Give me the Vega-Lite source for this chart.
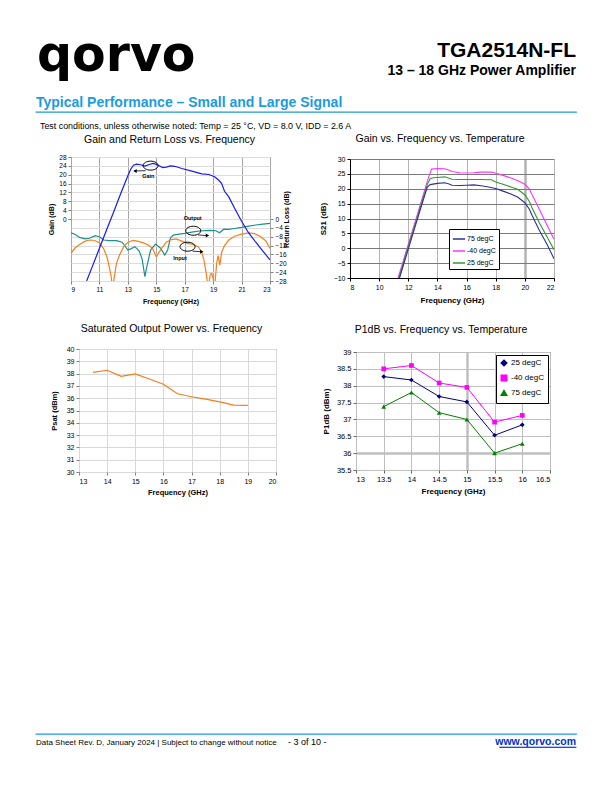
{
"$schema": "https://vega.github.io/schema/vega-lite/v6.json",
"padding": 0,
"background": "white",
"bounds": "flush",
"spacing": 0,
"resolve": {"scale": {"color": "independent", "shape": "independent"}, "legend": {"color": "independent", "shape": "independent"}},
"config": {
  "view": {"stroke": null},
  "font": "Liberation Sans",
  "concat": {"spacing": 0},
  "axis": {"labelFont": "Liberation Sans", "titleFont": "Liberation Sans", "labelColor": "#000", "titleColor": "#000", "domainColor": "#000", "tickColor": "#000", "labelFontSize": 7, "titleFontSize": 7.5, "titleFontWeight": "bold", "tickSize": 3, "labelPadding": 2, "labelOverlap": false},
  "title": {"font": "Liberation Sans", "fontWeight": "normal", "color": "#000", "subtitleFont": "Liberation Sans", "subtitleColor": "#000"},
  "legend": {"labelFont": "Liberation Sans", "labelColor": "#000"}
},
"datasets": {
  "c1gain": [
    {"f":10.1,"v":-28},{"f":10.5,"v":-21.5},{"f":11,"v":-13.2},{"f":11.5,"v":-5},{"f":12,"v":3.2},{"f":12.5,"v":11.5},{"f":13,"v":19.5},{"f":13.2,"v":22.5},{"f":13.4,"v":24.3},{"f":13.6,"v":24.8},{"f":13.9,"v":24.5},{"f":14.2,"v":23.9},{"f":14.5,"v":24.6},{"f":14.8,"v":25.1},{"f":15.1,"v":24.4},{"f":15.45,"v":23.2},{"f":15.7,"v":23.4},{"f":16,"v":24},{"f":16.3,"v":23.8},{"f":16.8,"v":22.8},{"f":17.5,"v":21.6},{"f":18.2,"v":20.4},{"f":18.7,"v":20.1},{"f":19.1,"v":19.1},{"f":19.4,"v":17.5},{"f":19.6,"v":16},{"f":19.8,"v":12.5},{"f":20.1,"v":10},{"f":20.5,"v":5},{"f":21,"v":-1},{"f":21.5,"v":-6.3},{"f":22,"v":-10.5},{"f":22.5,"v":-14.5},{"f":23,"v":-18.5}
  ],
  "c1rl": [
    {"s":"Output","f":9,"v":-6.2},{"s":"Output","f":9.3,"v":-7},{"s":"Output","f":9.6,"v":-8.3},{"s":"Output","f":10,"v":-9},{"s":"Output","f":10.3,"v":-8.7},{"s":"Output","f":10.7,"v":-7.5},{"s":"Output","f":11,"v":-8},{"s":"Output","f":11.3,"v":-9.5},{"s":"Output","f":11.7,"v":-9.8},{"s":"Output","f":12.2,"v":-9.8},{"s":"Output","f":12.6,"v":-10.5},{"s":"Output","f":13,"v":-14},{"s":"Output","f":13.2,"v":-13.5},{"s":"Output","f":13.5,"v":-12.5},{"s":"Output","f":13.8,"v":-14.5},{"s":"Output","f":14,"v":-18},{"s":"Output","f":14.2,"v":-26},{"s":"Output","f":14.35,"v":-21},{"s":"Output","f":14.6,"v":-14},{"s":"Output","f":14.95,"v":-11.3},{"s":"Output","f":15.3,"v":-13.2},{"s":"Output","f":15.6,"v":-16.3},{"s":"Output","f":15.8,"v":-14},{"s":"Output","f":16,"v":-8.5},{"s":"Output","f":16.2,"v":-7.3},{"s":"Output","f":16.6,"v":-6.8},{"s":"Output","f":17,"v":-6.5},{"s":"Output","f":17.6,"v":-5.8},{"s":"Output","f":18.2,"v":-5.3},{"s":"Output","f":18.8,"v":-5.1},{"s":"Output","f":19.2,"v":-5.3},{"s":"Output","f":19.45,"v":-6.2},{"s":"Output","f":19.75,"v":-4.6},{"s":"Output","f":20.1,"v":-4.7},{"s":"Output","f":20.5,"v":-4.3},{"s":"Output","f":21,"v":-3.8},{"s":"Output","f":21.5,"v":-3.2},{"s":"Output","f":22,"v":-2.7},{"s":"Output","f":22.5,"v":-2.3},{"s":"Output","f":23,"v":-2},
    {"s":"Input","f":9,"v":-15.5},{"s":"Input","f":9.3,"v":-13},{"s":"Input","f":9.6,"v":-11.5},{"s":"Input","f":10,"v":-10},{"s":"Input","f":10.3,"v":-9.5},{"s":"Input","f":10.6,"v":-9.6},{"s":"Input","f":11,"v":-10.7},{"s":"Input","f":11.3,"v":-13.5},{"s":"Input","f":11.55,"v":-17.5},{"s":"Input","f":11.8,"v":-25},{"s":"Input","f":11.93,"v":-31},{"s":"Input","f":12.05,"v":-26},{"s":"Input","f":12.2,"v":-20},{"s":"Input","f":12.4,"v":-16.5},{"s":"Input","f":12.7,"v":-12.5},{"s":"Input","f":13,"v":-10.5},{"s":"Input","f":13.4,"v":-9.7},{"s":"Input","f":13.8,"v":-10.2},{"s":"Input","f":14.1,"v":-10.8},{"s":"Input","f":14.5,"v":-12},{"s":"Input","f":14.75,"v":-13.5},{"s":"Input","f":15,"v":-17},{"s":"Input","f":15.15,"v":-15.5},{"s":"Input","f":15.35,"v":-13.5},{"s":"Input","f":15.7,"v":-10.5},{"s":"Input","f":16.05,"v":-9.3},{"s":"Input","f":16.4,"v":-9},{"s":"Input","f":16.8,"v":-10},{"s":"Input","f":17.2,"v":-11},{"s":"Input","f":17.6,"v":-11.5},{"s":"Input","f":17.95,"v":-12.5},{"s":"Input","f":18.2,"v":-15},{"s":"Input","f":18.35,"v":-18.5},{"s":"Input","f":18.5,"v":-24},{"s":"Input","f":18.65,"v":-31},{"s":"Input","f":18.8,"v":-25},{"s":"Input","f":18.9,"v":-24.5},{"s":"Input","f":19,"v":-27},{"s":"Input","f":19.1,"v":-31},{"s":"Input","f":19.25,"v":-20},{"s":"Input","f":19.35,"v":-16.5},{"s":"Input","f":19.47,"v":-20.8},{"s":"Input","f":19.6,"v":-15},{"s":"Input","f":19.8,"v":-12},{"s":"Input","f":20.1,"v":-9.5},{"s":"Input","f":20.5,"v":-7.8},{"s":"Input","f":21,"v":-6.8},{"s":"Input","f":21.5,"v":-6.3},{"s":"Input","f":21.9,"v":-6.6},{"s":"Input","f":22.3,"v":-7.8},{"s":"Input","f":22.7,"v":-9.8},{"s":"Input","f":23,"v":-13.3}
  ],
  "c1ell": [{"f":14.6,"v":24.1},{"f":17.6,"v":-5.3},{"f":17.2,"v":-12.5}],
  "c1arr": [{"f":14.25,"v":21.8,"f2":13.5,"v2":21.7,"dir":"left"},{"f":17.95,"v":-7.2,"f2":18.6,"v2":-7.5,"dir":"right"},{"f":17.55,"v":-14.5,"f2":18.2,"v2":-14.8,"dir":"right"}],
  "c1lab": [{"f":14.44,"v":19.5,"t":"Gain"},{"f":17.56,"v":0.3,"t":"Output"},{"f":16.67,"v":-17.7,"t":"Input"}],
  "c2": [
    {"t":"-40 degC","f":11.3,"v":-10},{"t":"-40 degC","f":12,"v":1.3},{"t":"-40 degC","f":12.5,"v":9.4},{"t":"-40 degC","f":13,"v":17.5},{"t":"-40 degC","f":13.4,"v":24},{"t":"-40 degC","f":13.6,"v":26.6},{"t":"-40 degC","f":14,"v":26.8},{"t":"-40 degC","f":14.5,"v":26.7},{"t":"-40 degC","f":14.8,"v":26.2},{"t":"-40 degC","f":15,"v":25.8},{"t":"-40 degC","f":15.5,"v":25.4},{"t":"-40 degC","f":16,"v":25.3},{"t":"-40 degC","f":16.5,"v":25.4},{"t":"-40 degC","f":17,"v":25.6},{"t":"-40 degC","f":17.7,"v":25.6},{"t":"-40 degC","f":18,"v":25.2},{"t":"-40 degC","f":18.5,"v":24.5},{"t":"-40 degC","f":19,"v":23.7},{"t":"-40 degC","f":19.5,"v":22.8},{"t":"-40 degC","f":20,"v":21.5},{"t":"-40 degC","f":20.3,"v":20},{"t":"-40 degC","f":20.5,"v":18},{"t":"-40 degC","f":21,"v":13},{"t":"-40 degC","f":21.5,"v":8},{"t":"-40 degC","f":22,"v":3},
    {"t":"25 degC","f":11.35,"v":-10},{"t":"25 degC","f":12,"v":0.5},{"t":"25 degC","f":12.5,"v":8.5},{"t":"25 degC","f":13,"v":16.6},{"t":"25 degC","f":13.3,"v":21.4},{"t":"25 degC","f":13.5,"v":23.4},{"t":"25 degC","f":13.7,"v":23.7},{"t":"25 degC","f":14,"v":23.8},{"t":"25 degC","f":14.5,"v":24},{"t":"25 degC","f":14.8,"v":23.5},{"t":"25 degC","f":15,"v":23.2},{"t":"25 degC","f":15.5,"v":23.1},{"t":"25 degC","f":16,"v":23.1},{"t":"25 degC","f":16.5,"v":23.1},{"t":"25 degC","f":17,"v":23.1},{"t":"25 degC","f":17.7,"v":23},{"t":"25 degC","f":18,"v":22.3},{"t":"25 degC","f":18.5,"v":21.5},{"t":"25 degC","f":19,"v":20.7},{"t":"25 degC","f":19.5,"v":19.8},{"t":"25 degC","f":20,"v":18},{"t":"25 degC","f":20.3,"v":15.8},{"t":"25 degC","f":20.5,"v":13.5},{"t":"25 degC","f":21,"v":8.5},{"t":"25 degC","f":21.5,"v":4},{"t":"25 degC","f":22,"v":-0.5},
    {"t":"75 degC","f":11.4,"v":-10},{"t":"75 degC","f":12,"v":-0.3},{"t":"75 degC","f":12.5,"v":7.8},{"t":"75 degC","f":13,"v":15.8},{"t":"75 degC","f":13.3,"v":20.5},{"t":"75 degC","f":13.5,"v":21.4},{"t":"75 degC","f":14,"v":21.8},{"t":"75 degC","f":14.5,"v":22},{"t":"75 degC","f":14.8,"v":21.6},{"t":"75 degC","f":15,"v":21.2},{"t":"75 degC","f":15.5,"v":21.1},{"t":"75 degC","f":16,"v":21.2},{"t":"75 degC","f":16.5,"v":21.3},{"t":"75 degC","f":17,"v":21},{"t":"75 degC","f":17.5,"v":20.6},{"t":"75 degC","f":18,"v":20.1},{"t":"75 degC","f":18.5,"v":19.2},{"t":"75 degC","f":19,"v":18.3},{"t":"75 degC","f":19.5,"v":17.2},{"t":"75 degC","f":20,"v":15.3},{"t":"75 degC","f":20.3,"v":13.2},{"t":"75 degC","f":20.5,"v":11},{"t":"75 degC","f":21,"v":6},{"t":"75 degC","f":21.5,"v":1.5},{"t":"75 degC","f":22,"v":-3.5}
  ],
  "c3": [{"f":13.5,"v":38.1},{"f":14,"v":38.27},{"f":14.5,"v":37.78},{"f":15,"v":37.97},{"f":15.5,"v":37.56},{"f":16,"v":37.13},{"f":16.5,"v":36.36},{"f":17,"v":36.12},{"f":17.5,"v":35.92},{"f":18,"v":35.7},{"f":18.5,"v":35.44},{"f":19,"v":35.42}],
  "c4": [
    {"t":"25 degC","f":13.5,"v":38.27},{"t":"25 degC","f":14,"v":38.17},{"t":"25 degC","f":14.5,"v":37.68},{"t":"25 degC","f":15,"v":37.52},{"t":"25 degC","f":15.5,"v":36.53},{"t":"25 degC","f":16,"v":36.84},
    {"t":"-40 degC","f":13.5,"v":38.5},{"t":"-40 degC","f":14,"v":38.6},{"t":"-40 degC","f":14.5,"v":38.08},{"t":"-40 degC","f":15,"v":37.95},{"t":"-40 degC","f":15.5,"v":36.92},{"t":"-40 degC","f":16,"v":37.12},
    {"t":"75 degC","f":13.5,"v":37.38},{"t":"75 degC","f":14,"v":37.8},{"t":"75 degC","f":14.5,"v":37.2},{"t":"75 degC","f":15,"v":37.0},{"t":"75 degC","f":15.5,"v":36.0},{"t":"75 degC","f":16,"v":36.28}
  ]
},
"vconcat": [
  {"width": 612, "height": 78, "data": {"values": []}, "mark": "point"},
  {"hconcat": [
    {"width": 36, "height": 0.01, "data": {"values": []}, "mark": "point"},
    {"width": 540, "height": 0.01, "data": {"values": []}, "mark": "point",
     "title": {"text": "TGA2514N-FL", "subtitle": "13 – 18 GHz Power Amplifier", "anchor": "end", "frame": "group", "offset": 0, "fontSize": 21, "fontWeight": "bold", "subtitleFontSize": 14, "subtitleFontWeight": "bold", "subtitlePadding": 3}}
  ], "spacing": 0, "bounds": "flush"},
  {"hconcat": [
    {"width": 37, "height": 0.01, "data": {"values": []}, "mark": "point"},
    {"width": 300, "height": 0.01, "data": {"values": []}, "mark": "point",
     "title": {"text": "qorvo", "anchor": "start", "frame": "group", "offset": -3, "font": "DejaVu Sans", "fontSize": 49, "fontWeight": "bold"}}
  ], "spacing": 0, "bounds": "flush"},
  {"width": 612, "height": 34, "data": {"values": []}, "mark": "point"},
  {"hconcat": [
    {"width": 36, "height": 0.01, "data": {"values": []}, "mark": "point"},
    {"width": 540, "height": 0.01, "data": {"values": []}, "mark": "point", "view": {"stroke": "#1b9be0", "strokeWidth": 1.3},
     "title": {"text": "Typical Performance – Small and Large Signal", "anchor": "start", "frame": "group", "offset": 2, "fontSize": 14, "fontWeight": "bold", "color": "#1b9be0"}}
  ], "spacing": 0, "bounds": "flush"},
  {"hconcat": [
    {"width": 40, "height": 0.01, "data": {"values": []}, "mark": "point"},
    {"width": 500, "height": 0.01, "data": {"values": []}, "mark": "point",
     "title": {"text": "Test conditions, unless otherwise noted: Temp = 25 °C, VD = 8.0 V, IDD = 2.6 A", "orient": "bottom", "anchor": "start", "frame": "group", "offset": 10, "fontSize": 8.9}}
  ], "spacing": 0, "bounds": "flush"},
  {"width": 612, "height": 45, "data": {"values": []}, "mark": "point"},
  {"hconcat": [
    {"width": 71, "height": 1, "data": {"values": []}, "mark": "point"},
    {"width": 199, "height": 124,
     "view": {"stroke": "#808080", "strokeWidth": 1},
     "title": {"text": "Gain and Return Loss vs. Frequency", "anchor": "middle", "frame": "group", "dx": -1, "offset": 9, "fontSize": 10.5},
     "layer": [
       {"data": {"name": "c1rl"}, "mark": {"type": "line", "strokeWidth": 1.2, "clip": true},
        "encoding": {
          "x": {"field": "f", "type": "quantitative", "title": "Frequency (GHz)", "scale": {"domain": [9, 23], "nice": false},
                "axis": {"values": [9,11,13,15,17,19,21,23], "format": "~g", "tickCount": 30, "labelOverlap": false, "grid": true, "gridColor": "#a6a6a6", "domain": false, "tickColor": "#808080", "labelFontSize": 6.5, "titleFontSize": 7, "titlePadding": 5}},
          "y": {"field": "v", "type": "quantitative", "scale": {"domain": [-28, 28], "nice": false},
                "axis": {"orient": "right", "values": [-28,-24,-20,-16,-12,-8,-4,0], "format": "~g", "tickCount": 30, "labelOverlap": false, "grid": false, "domain": false, "tickColor": "#808080", "labelFontSize": 6.5, "title": "Return Loss (dB)", "titleFontSize": 7, "titleAngle": 270, "titlePadding": 3}},
          "color": {"field": "s", "type": "nominal", "scale": {"domain": ["Input", "Output"], "range": ["#f7801e", "#1f8f8a"]}, "legend": null}
        }},
       {"layer": [
         {"data": {"name": "c1gain"}, "mark": {"type": "line", "color": "#1a1aee", "strokeWidth": 1.2, "clip": true},
          "encoding": {
            "x": {"field": "f", "type": "quantitative", "title": "Frequency (GHz)", "scale": {"domain": [9, 23], "nice": false},
                  "axis": {"values": [9,11,13,15,17,19,21,23], "format": "~g", "tickCount": 30, "labelOverlap": false, "grid": true, "gridColor": "#a6a6a6", "domain": false, "tickColor": "#808080", "labelFontSize": 6.5, "titleFontSize": 7, "titlePadding": 5}},
            "y": {"field": "v", "type": "quantitative", "title": "Gain (dB)", "scale": {"domain": [-28, 28], "nice": false},
                  "axis": {"values": [-28,-24,-20,-16,-12,-8,-4,0,4,8,12,16,20,24,28], "format": "~g", "tickCount": 30, "labelOverlap": false, "labelExpr": "datum.value >= 0 ? datum.label : ''", "tickOpacity": {"condition": {"test": "datum.value < 0", "value": 0}, "value": 1}, "grid": true, "gridColor": "#dcdcdc", "domain": false, "tickColor": "#808080", "labelFontSize": 6.5, "titleFontSize": 7, "titlePadding": 4}}
          }},
         {"data": {"name": "c1ell"}, "mark": {"type": "point", "shape": "M-1,0A1,0.6,0,1,1,1,0A1,0.6,0,1,1,-1,0Z", "size": 225, "color": "black", "filled": false, "strokeWidth": 1, "opacity": 1},
          "encoding": {"x": {"field": "f", "type": "quantitative", "title": "Frequency (GHz)", "axis": {"tickCount": 30, "format": "~g"}}, "y": {"field": "v", "type": "quantitative", "title": "Gain (dB)", "axis": {"tickCount": 30, "format": "~g"}}}},
         {"data": {"name": "c1arr"}, "mark": {"type": "rule", "color": "black", "strokeWidth": 0.8},
          "encoding": {"x": {"field": "f", "type": "quantitative", "title": "Frequency (GHz)", "axis": {"tickCount": 30, "format": "~g"}}, "x2": {"field": "f2"}, "y": {"field": "v", "type": "quantitative", "title": "Gain (dB)", "axis": {"tickCount": 30, "format": "~g"}}, "y2": {"field": "v2"}}},
         {"data": {"name": "c1arr"}, "mark": {"type": "point", "filled": true, "color": "black", "size": 16, "opacity": 1},
          "encoding": {"x": {"field": "f2", "type": "quantitative", "title": "Frequency (GHz)", "axis": {"tickCount": 30, "format": "~g"}}, "y": {"field": "v2", "type": "quantitative", "title": "Gain (dB)", "axis": {"tickCount": 30, "format": "~g"}},
                       "shape": {"field": "dir", "type": "nominal", "scale": {"domain": ["left", "right"], "range": ["triangle-left", "triangle-right"]}, "legend": null}}},
         {"data": {"name": "c1lab"}, "mark": {"type": "text", "fontSize": 5.5, "fontWeight": "bold", "color": "black"},
          "encoding": {"x": {"field": "f", "type": "quantitative", "title": "Frequency (GHz)", "axis": {"tickCount": 30, "format": "~g"}}, "y": {"field": "v", "type": "quantitative", "title": "Gain (dB)", "axis": {"tickCount": 30, "format": "~g"}}, "text": {"field": "t"}}}
       ]}
     ],
     "resolve": {"scale": {"y": "independent"}, "axis": {"y": "independent"}}
    },
    {"width": 80, "height": 1, "data": {"values": []}, "mark": "point"},
    {"vconcat": [
      {"width": 204, "height": 2, "data": {"values": []}, "mark": "point"},
      {"width": 204, "height": 119,
       "title": {"text": "Gain vs. Frequency vs. Temperature", "anchor": "middle", "frame": "group", "dx": -12, "offset": 11, "fontSize": 10.5},
       "data": {"name": "c2"},
       "mark": {"type": "line", "strokeWidth": 1.1, "clip": true},
       "encoding": {
         "x": {"field": "f", "type": "quantitative", "title": "Frequency (GHz)", "scale": {"domain": [8, 22], "nice": false},
               "axis": {"values": [8,10,12,14,16,18,20,22], "labelOverlap": false, "grid": true, "gridColor": "#b3b3b3", "gridWidth": {"condition": {"test": "datum.value == 20", "value": 2.5}, "value": 1}, "labelFontSize": 7, "titleFontSize": 8, "titlePadding": 6}},
         "y": {"field": "v", "type": "quantitative", "title": "S21 (dB)", "scale": {"domain": [-10, 30], "nice": false},
               "axis": {"values": [-10,-5,0,5,10,15,20,25,30], "labelOverlap": false, "grid": true, "gridColor": "#7a7a7a", "labelFontSize": 7, "titleFontSize": 8, "titlePadding": 6}},
         "color": {"field": "t", "type": "nominal", "scale": {"domain": ["75 degC", "-40 degC", "25 degC"], "range": ["#2e3192", "#ff33ff", "#2e9a2e"]},
                   "legend": {"orient": "none", "legendX": 99, "legendY": 70, "title": null, "strokeColor": "black", "fillColor": "white", "padding": 3, "symbolType": "stroke", "symbolStrokeWidth": 1.5, "symbolSize": 150, "labelFontSize": 7, "rowPadding": 2, "labelOffset": 1}}
       }}
    ], "spacing": 0, "bounds": "flush",
    "resolve": {"scale": {"color": "independent", "shape": "independent"}, "legend": {"color": "independent", "shape": "independent"}}}
  ], "spacing": 0, "bounds": "flush",
  "resolve": {"scale": {"color": "independent", "shape": "independent"}, "legend": {"color": "independent", "shape": "independent"}}},
  {"width": 612, "height": 192, "data": {"values": []}, "mark": "point"},
  {"hconcat": [
    {"width": 79, "height": 1, "data": {"values": []}, "mark": "point"},
    {"width": 197, "height": 123,
     "view": {"stroke": "#808080", "strokeWidth": 1},
     "title": {"text": "Saturated Output Power vs. Frequency", "anchor": "middle", "frame": "group", "dx": -6, "offset": 11, "fontSize": 10.5},
     "data": {"name": "c3"},
     "mark": {"type": "line", "color": "#f47d20", "strokeWidth": 1.2},
     "encoding": {
       "x": {"field": "f", "type": "quantitative", "title": "Frequency (GHz)", "scale": {"domain": [13, 20], "nice": false},
             "axis": {"values": [13,14,15,16,17,18,19,20], "labelOverlap": false, "grid": true, "gridColor": "#d9d9d9", "domain": false, "tickColor": "#808080", "labelFontSize": 7, "titleFontSize": 7.5, "titlePadding": 4}},
       "y": {"field": "v", "type": "quantitative", "title": "Psat (dBm)", "scale": {"domain": [30, 40], "nice": false},
             "axis": {"values": [30,31,32,33,34,35,36,37,38,39,40], "labelOverlap": false, "grid": true, "gridColor": "#d9d9d9", "domain": false, "tickColor": "#808080", "labelFontSize": 7, "titleFontSize": 7.5, "titlePadding": 8}}
     }},
    {"width": 80, "height": 1, "data": {"values": []}, "mark": "point"},
    {"vconcat": [
      {"width": 194, "height": 3, "data": {"values": []}, "mark": "point"},
      {"width": 194, "height": 118,
       "view": {"stroke": "#666666", "strokeWidth": 1},
       "title": {"text": "P1dB vs. Frequency vs. Temperature", "anchor": "middle", "frame": "group", "dx": -12, "offset": 13, "fontSize": 10.5},
       "data": {"name": "c4"},
       "encoding": {
         "x": {"field": "f", "type": "quantitative", "title": "Frequency (GHz)", "scale": {"domain": [13, 16.5], "nice": false},
               "axis": {"values": [13,13.5,14,14.5,15,15.5,16,16.5], "labelOverlap": false, "format": "~g", "grid": true, "gridColor": "#bfbfbf", "gridWidth": {"condition": {"test": "datum.value == 15", "value": 2.5}, "value": 1}, "domain": false, "tickColor": "#666666", "labelFontSize": 7.5, "titleFontSize": 8, "titlePadding": 5}},
         "y": {"field": "v", "type": "quantitative", "title": "P1dB (dBm)", "scale": {"domain": [35.5, 39], "nice": false},
               "axis": {"values": [35.5,36,36.5,37,37.5,38,38.5,39], "labelOverlap": false, "format": "~g", "grid": true, "gridColor": "#bfbfbf", "gridWidth": {"condition": {"test": "datum.value == 36", "value": 2.5}, "value": 1}, "domain": false, "tickColor": "#666666", "labelFontSize": 7.5, "titleFontSize": 8, "titlePadding": 6}},
         "color": {"field": "t", "type": "nominal", "scale": {"domain": ["25 degC", "-40 degC", "75 degC"], "range": ["#000080", "#ff00ff", "#008000"]},
                   "legend": {"orient": "none", "legendX": 140, "legendY": 3, "title": null, "strokeColor": "black", "fillColor": "white", "padding": 4, "symbolSize": 30, "labelFontSize": 8, "rowPadding": 3, "labelOffset": 3}}
       },
       "layer": [
         {"mark": {"type": "line", "strokeWidth": 1}},
         {"mark": {"type": "point", "filled": true, "size": 22, "opacity": 1},
          "encoding": {"shape": {"field": "t", "type": "nominal", "scale": {"domain": ["25 degC", "-40 degC", "75 degC"], "range": ["diamond", "square", "triangle-up"]},
                                  "legend": {"orient": "none", "legendX": 140, "legendY": 3, "title": null}}}}
       ]}
    ], "spacing": 0, "bounds": "flush",
    "resolve": {"scale": {"color": "independent", "shape": "independent"}, "legend": {"color": "independent", "shape": "independent"}}}
  ], "spacing": 0, "bounds": "flush",
  "resolve": {"scale": {"color": "independent", "shape": "independent"}, "legend": {"color": "independent", "shape": "independent"}}},
  {"width": 612, "height": 385, "data": {"values": []}, "mark": "point"},
  {"hconcat": [
    {"width": 36, "height": 0.01, "data": {"values": []}, "mark": "point"},
    {"width": 540, "height": 0.01, "data": {"values": []}, "mark": "point", "view": {"stroke": "#1b9be0", "strokeWidth": 1.3},
     "title": {"text": "Data Sheet Rev. D, January 2024 | Subject to change without notice", "orient": "bottom", "anchor": "start", "frame": "group", "offset": 5, "fontSize": 8}}
  ], "spacing": 0, "bounds": "flush"},
  {"hconcat": [
    {"width": 288, "height": 0.01, "data": {"values": []}, "mark": "point"},
    {"width": 50, "height": 0.01, "data": {"values": []}, "mark": "point",
     "title": {"text": "- 3 of 10 -", "orient": "bottom", "anchor": "start", "frame": "group", "offset": 4.4, "fontSize": 9}}
  ], "spacing": 0, "bounds": "flush"},
  {"hconcat": [
    {"width": 36, "height": 0.01, "data": {"values": []}, "mark": "point"},
    {"width": 540, "height": 0.01, "data": {"values": []}, "mark": "point",
     "title": {"text": "www.qorvo.com", "orient": "bottom", "anchor": "end", "frame": "group", "offset": 3.2, "fontSize": 10.5, "fontWeight": "bold", "color": "#0033cc"}}
  ], "spacing": 0, "bounds": "flush"},
  {"width": 612, "height": 13, "data": {"values": []}, "mark": "point"},
  {"hconcat": [
    {"width": 499, "height": 0.01, "data": {"values": []}, "mark": "point"},
    {"width": 77, "height": 0.01, "data": {"values": []}, "mark": "point", "view": {"stroke": "#0033cc", "strokeWidth": 0.8}}
  ], "spacing": 0, "bounds": "flush"}
]
}
